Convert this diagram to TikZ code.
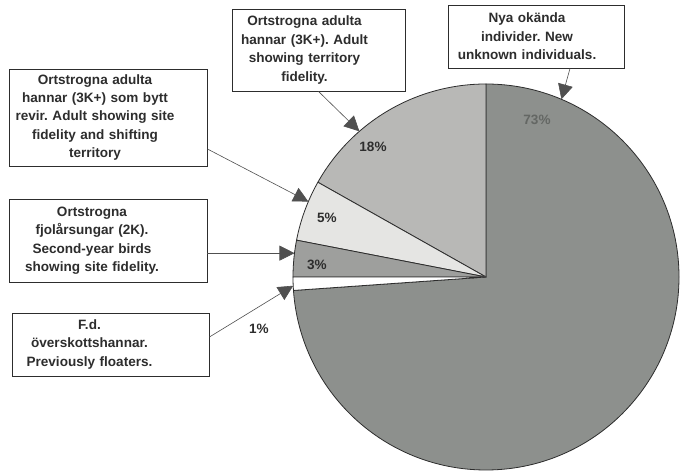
\documentclass[tikz,border=0pt]{standalone}
\usepackage{fontspec}
\setmainfont{Liberation Sans}
\usepackage{tikz}
\usepackage{xcolor}
\usetikzlibrary{arrows.meta,positioning,calc}
\frenchspacing
\definecolor{INK}{RGB}{45,45,45}
\definecolor{LEAD}{RGB}{80,80,80}
\definecolor{BIG}{RGB}{141,144,141}
\definecolor{MID}{RGB}{184,184,182}
\definecolor{PALE}{RGB}{229,229,227}
\definecolor{DARK}{RGB}{158,159,157}
\definecolor{PCTGREY}{RGB}{100,103,100}

\begin{document}
\begin{tikzpicture}[x=1bp,y=1bp,font=\bfseries\fontsize{13.6}{18.5}\selectfont,>={Triangle[length=15bp,width=15bp]}]
    \tikzset{callout/.style={draw=INK,line width=0.9bp,fill=white,inner sep=0pt,text=INK},
      nudge/.style={execute at begin node={\centering\rightskip=#1 plus 1fil}},
      slice/.style={draw=INK,line width=0.8bp,line join=round},
      pct/.style={text=INK,inner sep=1pt},
      lead/.style={draw=LEAD,line width=0.6bp}}
    \fill[white] (0,0) rectangle (683,473);
    \useasboundingbox (0,0) rectangle (683,473);
    \coordinate (c) at (486,196);
    \filldraw[slice,fill=BIG] (c) -- ++(90:193bp) arc[start angle=90,end angle=-176,radius=193bp] -- cycle;
    \filldraw[slice,fill=MID] (c) -- ++(90:193bp) arc[start angle=90,end angle=150.6,radius=193bp] -- cycle;
    \filldraw[slice,fill=PALE] (c) -- ++(150.6:193bp) arc[start angle=150.6,end angle=169,radius=193bp] -- cycle;
    \filldraw[slice,fill=DARK] (c) -- ++(169:193bp) arc[start angle=169,end angle=180,radius=193bp] -- cycle;
    \filldraw[slice,fill=white] (c) -- ++(180:193bp) arc[start angle=180,end angle=184,radius=193bp] -- cycle;
    \node[pct,text=PCTGREY] (p73) at (537,353) {73\%};
    \node[pct] (p18) at (373,326) {18\%};
    \node[pct] (p5) at (327,255) {5\%};
    \node[pct] (p3) at (317,208) {3\%};
    \node[pct] (p1) at (259,144.5) {1\%};
    \node[callout,text width=176bp,minimum height=63bp,nudge=18bp] (nya) at (536,436.5)
      {Nya okända\\individer. New\\unknown individuals.};
    \node[callout,text width=173bp,minimum height=82bp,nudge=28bp] (terr) at (318.5,423)
      {Ortstrogna adulta\\hannar (3K+). Adult\\showing territory\\fidelity.};
    \node[callout,text width=198bp,minimum height=97bp,nudge=26bp] (shift) at (108,355.5)
      {Ortstrogna adulta\\hannar (3K+) som bytt\\revir. Adult showing site\\fidelity and shifting\\territory};
    \node[callout,text width=198bp,minimum height=83bp,nudge=32bp] (fjol) at (108,232.5)
      {Ortstrogna\\fjolårsungar (2K).\\Second-year birds\\showing site fidelity.};
    \node[callout,text width=197bp,minimum height=63bp,nudge=42bp] (fd) at (110.5,128.5)
      {F.d.\\överskottshannar.\\Previously floaters.};
    \coordinate (tnya) at ($(c)+(67:193bp)$);
    \coordinate (tterr) at ($(c)+(131:193bp)$);
    \coordinate (tshift) at ($(c)+(157:193bp)$);
    \coordinate (tfjol) at ($(c)+(172.9:193bp)$);
    \coordinate (tfd) at ($(c)+(182.6:193bp)$);
    \draw[lead,->] ([xshift=34bp]nya.south) -- (tnya);
    \draw[lead,->] (terr.south) -- (tterr);
    \draw[lead,->] ([yshift=-31.5bp]shift.east) -- (tshift);
    \draw[lead,->] (fjol.east |- tfjol) -- (tfjol);
    \draw[lead,->] ([yshift=7.5bp]fd.east) -- (tfd);
  \end{tikzpicture}
\end{document}
